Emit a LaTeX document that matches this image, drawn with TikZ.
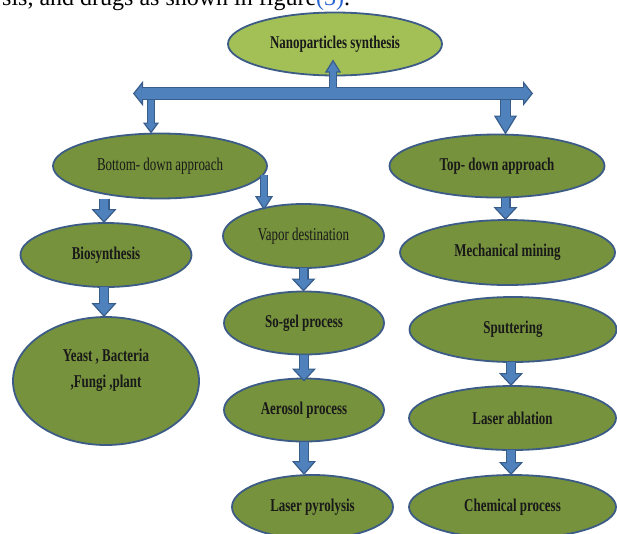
\documentclass[tikz,border=0pt]{standalone}
\usepackage{fontspec}
\setmainfont{Liberation Serif}
\newfontfamily\lblfont[FakeStretch=0.72]{Liberation Serif}
\usetikzlibrary{shapes.geometric,arrows.meta,calc}
\definecolor{oliveD}{RGB}{118,146,60}
\definecolor{oliveL}{RGB}{163,192,86}
\definecolor{edgeblue}{RGB}{60,92,135}
\definecolor{arrowblue}{RGB}{79,129,189}
\definecolor{arrowdark}{RGB}{56,93,138}
\definecolor{linkblue}{RGB}{40,100,210}
\newcommand\lblsize{\fontsize{18}{21}\selectfont}
\tikzset{
  ell/.style={ellipse, draw=edgeblue, line width=1.8pt, fill=oliveD, inner sep=0pt,
    outer sep=0pt, text=black!90, font=\lblfont\bfseries\lblsize},
  reg/.style={font=\lblfont\lblsize},
  blk/.style n args={3}{draw=arrowdark, line width=#1,
    -{Triangle[width=#2,length=#3,line width=1.2pt,fill=arrowblue]},
    postaction={draw=arrowblue, line width=#1-2.4pt, arrows=-, shorten >=#3-1.5pt}},
  bar/.style={draw=arrowdark, line width=13pt,
    {Triangle[width=25pt,length=10pt,line width=1.2pt,fill=arrowblue]}-{Triangle[width=25pt,length=10pt,line width=1.2pt,fill=arrowblue]},
    postaction={draw=arrowblue, line width=10.6pt, arrows=-, shorten >=8.5pt, shorten <=8.5pt}}
}
\begin{document}
\begin{tikzpicture}[x=1pt,y=-1pt]
\useasboundingbox[fill=white] (0,0) rectangle (617,533);
\begin{scope}
\clip (0,0) rectangle (617,533);
\node[anchor=base west, inner sep=0pt, font=\fontsize{24}{28}\selectfont] (hdr) at (2,5.5)
  {sis, and drugs as shown in figure\textcolor{linkblue}{(3)}.};

% ellipses
\node[ell, fill=oliveL, minimum width=214pt, minimum height=63pt] (nano) at (335,44) {Nanoparticles synthesis};
\node[ell, reg, minimum width=214pt, minimum height=65pt] (bottom) at (160,166) {Bottom- down approach};
\node[ell, minimum width=215pt, minimum height=63pt] (top) at (497,166) {Top- down approach};
\node[ell, reg, minimum width=161pt, minimum height=64pt] (vapor) at (303.5,236) {Vapor destination};
\node[ell, minimum width=171pt, minimum height=64pt] (bio) at (106,255) {Biosynthesis};
\node[ell, minimum width=215pt, minimum height=65pt] (mech) at (507.5,252.5) {Mechanical mining};
\node[ell, minimum width=160pt, minimum height=63pt] (sogel) at (304,323) {So-gel process};
\node[ell, minimum width=207pt, minimum height=65pt] (sput) at (513,329.5) {Sputtering};
\node[ell, minimum width=186pt, minimum height=128pt] (yeast) at (106,381) {};
\node[font=\lblfont\bfseries\fontsize{18}{26}\selectfont, text=black!90, align=center, inner sep=0pt] (yeastlbl) at (106,370) {Yeast , Bacteria\\,Fungi ,plant};
\node[ell, minimum width=160pt, minimum height=63pt] (aero) at (304,410) {Aerosol process};
\node[ell, minimum width=207pt, minimum height=64pt] (labl) at (512.5,418) {Laser ablation};
\node[ell, minimum width=161pt, minimum height=64pt] (lpyro) at (312.5,507) {Laser pyrolysis};
\node[ell, minimum width=207pt, minimum height=64pt] (chem) at (512.5,507) {Chemical process};

% main bar and its arrows
\coordinate (barL) at (133,93.5);
\coordinate (barR) at (533,93.5);
\coordinate (upS) at (333,88);
\coordinate (dL) at (151,99);
\coordinate (dR) at (505.5,99);
\draw[blk={8pt}{16pt}{11pt}] (dL) -- (dL |- bottom.north);
\draw[blk={11pt}{23pt}{19pt}] (dR) -- (dR |- top.north);
\draw[bar] (barL) -- (barR);
\draw[blk={8pt}{16pt}{13pt}] (upS) -- ([yshift=16pt]upS |- nano.south);

% vapor branch
\coordinate (vS) at (264,175);
\coordinate (vE) at (264,210);
\draw[blk={8pt}{18pt}{14pt}] (vS) -- (vE);

% vertical arrows
\draw[blk={11pt}{25pt}{14pt}] ([xshift=-2pt]bio.north |- bottom.south) -- ([xshift=-2pt]bio.north);
\draw[blk={10pt}{25pt}{14pt}] ([xshift=-2pt]bio.south) -- ([xshift=-2pt]bio.south |- yeast.north);
\draw[blk={10pt}{24pt}{13pt}] ([xshift=8.5pt]top.south) -- ([xshift=8.5pt]top.south |- mech.north);
\draw[blk={10pt}{24pt}{13pt}] (vapor.south) -- (vapor.south |- sogel.north);
\draw[blk={10pt}{24pt}{13pt}] (sogel.south) -- ([yshift=-3pt]sogel.south |- aero.north);
\draw[blk={10pt}{24pt}{14pt}] (aero.south) -- (aero.south |- lpyro.north);
\draw[blk={10pt}{24pt}{13pt}] ([xshift=-2pt]sput.south) -- ([xshift=-2pt]sput.south |- labl.north);
\draw[blk={10pt}{24pt}{13pt}] ([xshift=-1.5pt]labl.south) -- ([xshift=-1.5pt]labl.south |- chem.north);
\end{scope}
\end{tikzpicture}
\end{document}
